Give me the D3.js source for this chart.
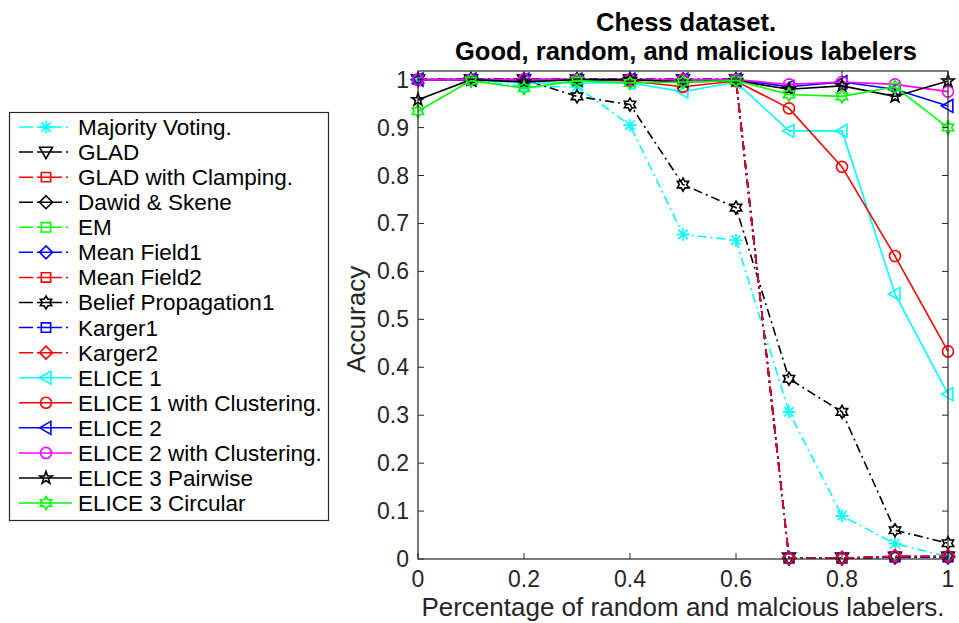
<!DOCTYPE html>
<html><head><meta charset="utf-8">
<script src="https://cdn.jsdelivr.net/npm/d3@7"></script>
<style>body{margin:0;background:#fff}svg{display:block;font-family:"Liberation Sans",Arial,Helvetica,sans-serif}</style>
</head><body><svg id="c" width="959" height="623"></svg>
<script>
// ---- data ----
const xValues = [0, 0.1, 0.2, 0.3, 0.4, 0.5, 0.6, 0.7, 0.8, 0.9, 1.0];
const xTicks = [0, 0.2, 0.4, 0.6, 0.8, 1];
const xTickLabels = ["0", "0.2", "0.4", "0.6", "0.8", "1"];
const yTicks = [0, 0.1, 0.2, 0.3, 0.4, 0.5, 0.6, 0.7, 0.8, 0.9, 1];
const yTickLabels = ["0", "0.1", "0.2", "0.3", "0.4", "0.5", "0.6", "0.7", "0.8", "0.9", "1"];
const seriesNames = ["Majority Voting.", "GLAD", "GLAD with Clamping.", "Dawid & Skene", "EM", "Mean Field1", "Mean Field2", "Belief Propagation1", "Karger1", "Karger2", "ELICE 1", "ELICE 1 with Clustering.", "ELICE 2", "ELICE 2 with Clustering.", "ELICE 3 Pairwise", "ELICE 3 Circular"];
const majorityVoting = [1.0, 1.0, 0.985, 0.985, 0.905, 0.677, 0.665, 0.307, 0.09, 0.032, 0.005];
const glad = [1.0, 1.0, 1.0, 1.0, 1.0, 1.0, 1.0, 0.002, 0.002, 0.004, 0.004];
const gladClamping = [1.0, 1.0, 1.0, 1.0, 1.0, 1.0, 1.0, 0.002, 0.002, 0.005, 0.005];
const dawidSkene = [1.0, 1.0, 1.0, 1.0, 1.0, 1.0, 1.0, 0.002, 0.002, 0.004, 0.004];
const em = [1.0, 1.0, 1.0, 1.0, 1.0, 1.0, 1.0, 0.002, 0.002, 0.004, 0.004];
const meanField1 = [1.0, 1.0, 1.0, 1.0, 1.0, 1.0, 1.0, 0.002, 0.002, 0.004, 0.004];
const meanField2 = [1.0, 1.0, 1.0, 1.0, 1.0, 1.0, 1.0, 0.002, 0.002, 0.005, 0.005];
const beliefPropagation1 = [1.0, 1.0, 1.0, 0.965, 0.948, 0.781, 0.733, 0.376, 0.307, 0.06, 0.033];
const karger1 = [1.0, 1.0, 1.0, 1.0, 1.0, 1.0, 1.0, 0.002, 0.002, 0.004, 0.004];
const karger2 = [1.0, 1.0, 1.0, 1.0, 1.0, 1.0, 1.0, 0.002, 0.002, 0.006, 0.006];
const elice1 = [1.0, 1.0, 0.993, 0.993, 0.993, 0.975, 0.995, 0.893, 0.893, 0.553, 0.344];
const elice1Clustering = [1.0, 1.0, 1.0, 1.0, 0.997, 0.985, 0.997, 0.94, 0.818, 0.632, 0.433];
const elice2 = [1.0, 1.0, 1.0, 1.0, 1.0, 1.0, 1.0, 0.985, 0.995, 0.98, 0.945];
const elice2Clustering = [1.0, 1.0, 1.0, 1.0, 1.0, 1.0, 1.0, 0.99, 0.995, 0.99, 0.975];
const elice3Pairwise = [0.958, 1.0, 0.995, 1.0, 1.0, 0.995, 0.998, 0.98, 0.987, 0.965, 0.997];
const elice3Circular = [0.934, 0.998, 0.982, 0.998, 0.993, 0.995, 0.998, 0.969, 0.965, 0.985, 0.90];
const seriesValues = [majorityVoting, glad, gladClamping, dawidSkene, em, meanField1, meanField2, beliefPropagation1, karger1, karger2, elice1, elice1Clustering, elice2, elice2Clustering, elice3Pairwise, elice3Circular];
const seriesColors = ["#00ffff", "#000000", "#ff0000", "#000000", "#00ff00", "#0000ff", "#ff0000", "#000000", "#0000ff", "#ff0000", "#00ffff", "#ff0000", "#0000ff", "#ff00ff", "#000000", "#00ff00"];
const seriesMarkers = ["asterisk", "triDown", "square", "diamond", "square", "diamond", "square", "hexagram", "square", "diamond", "triLeft", "circle", "triLeft", "circle", "pentagram", "hexagram"];
const seriesDashed = [true, true, true, true, true, true, true, true, true, true, false, false, false, false, false, false];

// ---- layout ----
const svg = d3.select("#c");
const x = d3.scaleLinear().domain([0, 1]).range([418, 948]);
const y = d3.scaleLinear().domain([0, 1.018]).range([559, 71]);
const axisColor = "#262626";
const DASH = "9,4,2,4";

function markerPath(type, r) {
  switch (type) {
    case "asterisk": {
      const d = r * 0.72;
      return `M${-r},0L${r},0M0,${-r}L0,${r}M${-d},${-d}L${d},${d}M${-d},${d}L${d},${-d}`;
    }
    case "triDown": return `M${-r},${-r*0.75}L${r},${-r*0.75}L0,${r}Z`;
    case "triLeft": return `M${-r},0L${r*0.75},${-r}L${r*0.75},${r}Z`;
    case "square": { const s = r * 0.72; return `M${-s},${-s}L${s},${-s}L${s},${s}L${-s},${s}Z`; }
    case "diamond": return `M0,${-r}L${r},0L0,${r}L${-r},0Z`;
    case "circle": { const c = r * 0.85; return `M${c},0A${c},${c} 0 1,1 ${-c},0A${c},${c} 0 1,1 ${c},0Z`; }
    case "pentagram": {
      let p = "";
      for (let i = 0; i < 10; i++) {
        const a = -Math.PI / 2 + i * Math.PI / 5;
        const rr = i % 2 === 0 ? r : r * 0.4;
        p += (i === 0 ? "M" : "L") + (rr * Math.cos(a)).toFixed(2) + "," + (rr * Math.sin(a)).toFixed(2);
      }
      return p + "Z";
    }
    case "hexagram": {
      let p = "";
      for (let i = 0; i < 12; i++) {
        const a = -Math.PI / 2 + i * Math.PI / 6;
        const rr = i % 2 === 0 ? r : r * 0.577;
        p += (i === 0 ? "M" : "L") + (rr * Math.cos(a)).toFixed(2) + "," + (rr * Math.sin(a)).toFixed(2);
      }
      return p + "Z";
    }
  }
}

// plot lines
const line = d3.line().x((d, i) => x(xValues[i])).y(d => y(d));
const gPlot = svg.append("g");
seriesValues.forEach((vals, si) => {
  const g = gPlot.append("g");
  g.append("path").attr("d", line(vals)).attr("fill", "none").attr("stroke", seriesColors[si])
    .attr("stroke-width", 1.6).attr("stroke-dasharray", seriesDashed[si] ? DASH : null);
  g.selectAll("path.m").data(vals).join("path").attr("class", "m")
    .attr("transform", (d, i) => `translate(${x(xValues[i])},${y(d)})`)
    .attr("d", markerPath(seriesMarkers[si], 6.5))
    .attr("fill", "none").attr("stroke", seriesColors[si]).attr("stroke-width", 1.6);
});

// axes
const gA = svg.append("g").attr("stroke", axisColor).attr("fill", "none");
gA.append("rect").attr("x", x(0)).attr("y", y.range()[1]).attr("width", x(1) - x(0)).attr("height", y(0) - y.range()[1]).attr("stroke-width", 1.2);
const tl = 6;
xTicks.forEach(t => {
  gA.append("line").attr("x1", x(t)).attr("x2", x(t)).attr("y1", y(0)).attr("y2", y(0) - tl);
  gA.append("line").attr("x1", x(t)).attr("x2", x(t)).attr("y1", y.range()[1]).attr("y2", y.range()[1] + tl);
});
yTicks.forEach(t => {
  gA.append("line").attr("x1", x(0)).attr("x2", x(0) + tl).attr("y1", y(t)).attr("y2", y(t));
  gA.append("line").attr("x1", x(1)).attr("x2", x(1) - tl).attr("y1", y(t)).attr("y2", y(t));
});
const gT = svg.append("g").attr("fill", axisColor).style("font-size", "23px");
xTicks.forEach((t, i) => gT.append("text").attr("x", x(t)).attr("y", y(0) + 28).attr("text-anchor", "middle").text(xTickLabels[i]));
yTicks.forEach((t, i) => gT.append("text").attr("x", x(0) - 9).attr("y", y(t) + 8).attr("text-anchor", "end").text(yTickLabels[i]));

svg.append("text").attr("x", (x(0) + x(1)) / 2).attr("y", 616).attr("text-anchor", "middle")
  .attr("fill", axisColor).style("font-size", "26px").text("Percentage of random and malcious labelers.");
svg.append("text").attr("transform", `translate(365,${(y(0) + y(1)) / 2}) rotate(-90)`).attr("text-anchor", "middle")
  .attr("fill", axisColor).style("font-size", "26px").text("Accuracy");
const title = svg.append("text").attr("text-anchor", "middle").attr("font-weight", "bold").style("font-size", "25.5px").attr("fill", "#000");
title.append("tspan").attr("x", 686).attr("y", 31).text("Chess dataset.");
title.append("tspan").attr("x", 686).attr("y", 60).text("Good, random, and malicious labelers");

// legend
const gL = svg.append("g");
gL.append("rect").attr("x", 9.5).attr("y", 112.5).attr("width", 319).attr("height", 408).attr("fill", "#fff").attr("stroke", axisColor).attr("stroke-width", 1.2);
seriesNames.forEach((name, si) => {
  const ly = 127 + si * 25.07;
  gL.append("path").attr("d", `M19,${ly}L72,${ly}`).attr("stroke", seriesColors[si]).attr("stroke-width", 1.5)
    .attr("stroke-dasharray", seriesDashed[si] ? "14,4,25,4,2,20" : null);
  gL.append("path").attr("transform", `translate(46,${ly})`).attr("d", markerPath(seriesMarkers[si], 6.5))
    .attr("fill", "none").attr("stroke", seriesColors[si]).attr("stroke-width", 1.6);
  gL.append("text").attr("x", 78).attr("y", ly + 8).style("font-size", "22.5px").attr("fill", "#000").text(name);
});
</script></body></html>
